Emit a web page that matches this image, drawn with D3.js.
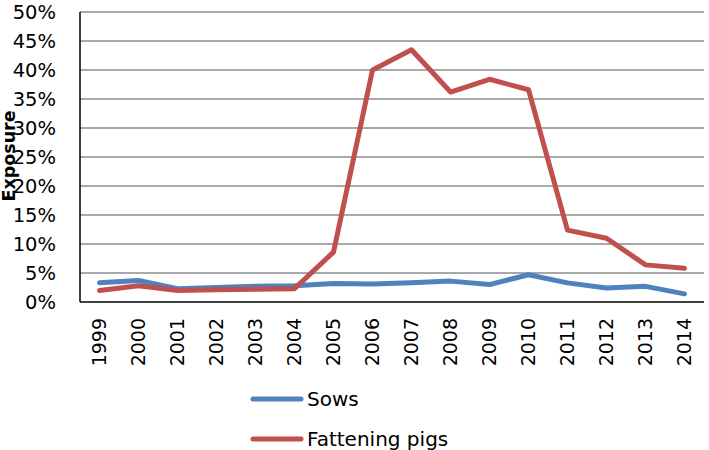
<!DOCTYPE html>
<html><head><meta charset="utf-8">
<script src="https://cdn.jsdelivr.net/npm/d3@7"></script>
<style>body{margin:0;background:#fff}svg{display:block}text{font-family:"DejaVu Sans",sans-serif}</style>
</head><body>
<svg id="c" width="709" height="450"></svg>
<script>
const years = ["1999","2000","2001","2002","2003","2004","2005","2006","2007","2008","2009","2010","2011","2012","2013","2014"];
const sows = [3.3, 3.7, 2.3, 2.5, 2.7, 2.8, 3.2, 3.1, 3.3, 3.6, 3.0, 4.7, 3.3, 2.4, 2.7, 1.4];
const fattening = [2.0, 2.8, 2.0, 2.1, 2.2, 2.3, 8.6, 40.0, 43.5, 36.2, 38.4, 36.6, 12.4, 11.0, 6.4, 5.8];
const yTicks = [0,5,10,15,20,25,30,35,40,45,50];
const seriesNames = ["Sows","Fattening pigs"];
const colors = ["#4F81BD","#C0504D"];

const svg = d3.select("#c");
const m = {l:80, r:5, t:12, b:148};
const W = 709, H = 450;
const FONT = "'DejaVu Sans',sans-serif";
const x = d3.scaleBand().domain(years).range([m.l, W - m.r]);
const y = d3.scaleLinear().domain([0,50]).range([H - m.b, m.t]);

// gridlines
svg.append("g").selectAll("line").data(yTicks.filter(d=>d>0)).join("line")
  .attr("x1", m.l).attr("x2", W - m.r)
  .attr("y1", d=>y(d)).attr("y2", d=>y(d))
  .attr("stroke","#8c8c8c").attr("stroke-width",1.3);

// y axis
const ya = svg.append("g").attr("transform",`translate(${m.l},0)`)
  .call(d3.axisLeft(y).tickValues(yTicks).tickFormat(d=>d+"%").tickSize(0).tickPadding(24));
ya.select(".domain").remove();
ya.selectAll("text").attr("font-size",19.5).attr("fill","#000").attr("font-family",FONT);

// x axis
const xa = svg.append("g").attr("transform",`translate(0,${H - m.b})`)
  .call(d3.axisBottom(x).tickSize(0).tickPadding(0));
xa.select(".domain").remove();
xa.selectAll("text").attr("font-size",19).attr("fill","#000")
  .attr("font-family",FONT)
  .attr("transform","rotate(-90)").attr("text-anchor","end")
  .attr("dy","0.36em").attr("x",-16).attr("y",0);

// axis lines
svg.append("line").attr("x1",m.l).attr("x2",m.l).attr("y1",m.t).attr("y2",H-m.b).attr("stroke","#000").attr("stroke-width",1.5);
svg.append("line").attr("x1",m.l).attr("x2",W-m.r).attr("y1",H-m.b).attr("y2",H-m.b).attr("stroke","#000").attr("stroke-width",1.5);

// lines
const line = d3.line().x((d,i)=>x(years[i]) + x.bandwidth()/2).y(d=>y(d));
[sows, fattening].forEach((s,k)=>{
  svg.append("path").datum(s).attr("d",line).attr("fill","none")
    .attr("stroke",colors[k]).attr("stroke-width",5).attr("stroke-linejoin","round").attr("stroke-linecap","round");
});

// y title
svg.append("text").attr("transform","translate(15,156) rotate(-90)")
  .attr("text-anchor","middle").attr("font-size",17.5).attr("font-weight","bold").attr("font-family",FONT).text("Exposure");

// legend
const lg = svg.append("g");
seriesNames.forEach((n,k)=>{
  const yy = 399 + k*40;
  lg.append("line").attr("x1",253).attr("x2",301).attr("y1",yy).attr("y2",yy)
    .attr("stroke",colors[k]).attr("stroke-width",5).attr("stroke-linecap","round");
  lg.append("text").attr("x",307).attr("y",yy).attr("dy","0.36em").attr("font-size",20).attr("font-family",FONT).text(n);
});
</script>
</body></html>
